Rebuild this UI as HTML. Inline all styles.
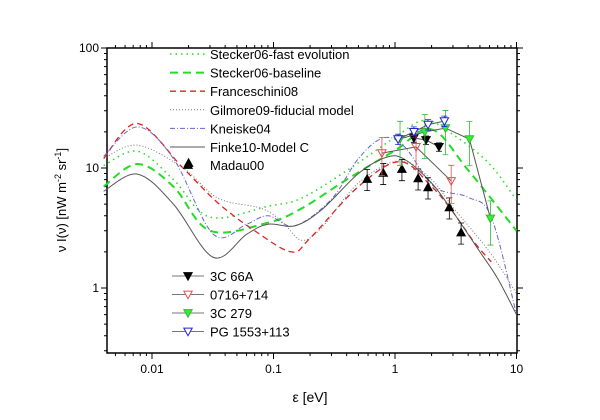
<!DOCTYPE html>
<html><head><meta charset="utf-8"><style>
body{margin:0;background:#fff}
svg{display:block;font-family:"Liberation Sans",sans-serif}
</style></head><body>
<svg id="chart" width="600" height="420" xmlns="http://www.w3.org/2000/svg">
<g id="axes"></g>
<g id="curves"></g>
<g id="points"></g>
<g id="legend"></g>
<text x="310" y="402" text-anchor="middle" font-size="14">ε [eV]</text>
<text transform="translate(66,200) rotate(-90)" text-anchor="middle" font-size="13">ν I(ν) [nW m<tspan dy="-5" font-size="9">-2</tspan><tspan dy="5"> sr</tspan><tspan dy="-5" font-size="9">-1</tspan><tspan dy="5">]</tspan></text>
</svg>
<script>
const finke=[[0.004,6.4],[0.0076,8.9],[0.015,5],[0.032,1.8],[0.06,2.8],[0.09,3.4],[0.15,3.3],[0.25,4.5],[0.5,9],[0.85,12.3],[1.2,11.8],[2,7.5],[3,4.3],[5,2],[7,1.2],[10,0.6]];
const kneiske=[[0.004,12.5],[0.0076,22],[0.015,12],[0.032,2.8],[0.06,3.4],[0.09,4],[0.15,3.3],[0.3,5.5],[0.5,12],[0.8,17.8],[1.2,15],[2.1,7],[4,5.7],[6.2,3.9],[10,0.6]];
const frances=[[0.004,12],[0.0076,23.5],[0.018,10],[0.035,5.1],[0.07,3],[0.14,2],[0.2,2.6],[0.5,7],[1.1,11.3],[2,7],[2.9,4.5],[4.5,2.4],[6.2,1.65]];
const gilmore=[[0.004,12],[0.0076,15.5],[0.018,10],[0.035,5.6],[0.08,4.6],[0.12,3.5],[0.17,2.5],[0.25,3.2],[0.5,7.5],[1.1,11.5],[2,8],[3,4.7],[6,2],[10,0.9]];
const steckerFast=[[0.004,10.5],[0.0076,13.8],[0.015,8],[0.03,3.9],[0.09,4.8],[0.17,5.6],[0.4,9.5],[1,18],[1.75,25],[3,19],[5.9,11],[10,5.4]];
const steckerBase=[[0.004,7],[0.0076,10.8],[0.015,7],[0.03,3],[0.09,3.5],[0.17,4.6],[0.4,8],[1,14],[2,21],[4,9.6],[10,3]];
const madauModel=[[0.02,11]];
const madauE=[0.59,0.8,1.14,1.55,1.87,2.8,3.5];
const madauV=[8.1,9.1,9.8,8.2,6.9,4.7,2.9];
const s66aE=[1.43,1.8,2.3];
const s66aV=[17.8,17.1,15];
const s0716E=[0.78,1.49,2.9];
const s0716V=[13.3,15,7.8];
const s279E=[1.1,1.76,2.6,4.1,6.1];
const s279V=[17.5,20,21.5,17.4,3.8];
const pgE=[1.06,1.43,1.87,2.55];
const pgV=[17.4,20,23,24.6];
const xTicks=[0.01,0.1,1,10];
const xTickLabels=["0.01","0.1","1","10"];
const yTicks=[1,10,100];
const yTickLabels=["1","10","100"];

const NS="http://www.w3.org/2000/svg";
const L=107,R=517,T=48,B=353;
const X=e=>152+121.5*(Math.log10(e)+2);
const Y=v=>288-120*Math.log10(v);
function mk(t,a,p){const e=document.createElementNS(NS,t);for(const k in a)e.setAttribute(k,a[k]);p.appendChild(e);return e;}
const ax=document.getElementById('axes');
const frame=mk('rect',{x:L,y:T,width:R-L,height:B-T,fill:'none',stroke:'#000','stroke-width':1.5},ax);


for(let d=-3;d<=1;d++){for(let m=1;m<10;m++){const e=m*Math.pow(10,d);const x=X(e);if(x<L-0.5||x>R+0.5)continue;const len=m===1?6:3;
const t1=mk('line',{x1:x,x2:x,y1:B,y2:B+len,stroke:'#000'},ax);
const t2=mk('line',{x1:x,x2:x,y1:T,y2:T-len,stroke:'#000'},ax);}}
xTicks.forEach((e,i)=>{const t=mk('text',{x:X(e),y:B+20,'text-anchor':'middle','font-size':12},ax);t.textContent=xTickLabels[i];
});
for(let d=-1;d<=2;d++){for(let m=1;m<10;m++){const v=m*Math.pow(10,d);const y=Y(v);if(y>B+0.5||y<T-0.5)continue;const len=m===1?6:3;
const t1=mk('line',{x1:L,x2:L-len,y1:y,y2:y,stroke:'#000'},ax);
const t2=mk('line',{x1:R,x2:R+len,y1:y,y2:y,stroke:'#000'},ax);}}
yTicks.forEach((v,i)=>{const t=mk('text',{x:L-8,y:Y(v)+4,'text-anchor':'end','font-size':12},ax);t.textContent=yTickLabels[i];
});

function smooth(data){const p=data.map(d=>[X(d[0]),Y(d[1])]);let s='M'+p[0][0]+','+p[0][1];
for(let i=0;i<p.length-1;i++){const p0=p[i-1]||p[i],p1=p[i],p2=p[i+1],p3=p[i+2]||p2;
s+=' C'+(p1[0]+(p2[0]-p0[0])/6)+','+(p1[1]+(p2[1]-p0[1])/6)+' '+(p2[0]-(p3[0]-p1[0])/6)+','+(p2[1]-(p3[1]-p1[1])/6)+' '+p2[0]+','+p2[1];}return s;}
const cg=document.getElementById('curves');
const curves=[
 [steckerFast,'#22dd22','1.5','1.5 4','stecker06-fast-curve'],
 [steckerBase,'#22dd22','2','8 5','stecker06-baseline-curve'],
 [frances,'#dd2222','1.3','6 4','franceschini08-curve'],
 [gilmore,'#777','1','1 2','gilmore09-curve'],
 [kneiske,'#6666cc','1','5 2 1 2','kneiske04-curve'],
 [finke,'#555','1','','finke10-curve']];
curves.forEach(c=>{const p=mk('path',{d:smooth(c[0]),fill:'none',stroke:c[1],'stroke-width':c[2],'stroke-dasharray':c[3]},cg);
});

const pg=document.getElementById('points');
function tri(x,y,up,fill,stroke,r){r=r||4.2;const pts=up?[[x,y-r],[x-r,y+r*0.8],[x+r,y+r*0.8]]:[[x,y+r],[x-r,y-r*0.8],[x+r,y-r*0.8]];
return mk('polygon',{points:pts.map(q=>q.join(',')).join(' '),fill:fill,stroke:stroke,'stroke-width':1},pg);}
function series(E,V,up,fill,stroke,err,line,name){
 if(line){const l=mk('polyline',{points:E.map((e,i)=>X(e)+','+Y(V[i])).join(' '),fill:'none',stroke:'#555','stroke-width':1},pg);
 }
 E.forEach((e,i)=>{const x=X(e),y=Y(V[i]);const lo=Y(V[i]*(1-err)),hi=Y(V[i]*(1+err));
 const b=mk('path',{d:`M${x},${hi}V${lo}M${x-3},${hi}H${x+3}M${x-3},${lo}H${x+3}`,stroke:stroke,'stroke-width':0.8,fill:'none'},pg);
 
 const m=tri(x,y,up,fill,stroke);});}
series(madauE,madauV,true,'#000','#000',0.2,false,'madau00');
series(s66aE,s66aV,false,'#000','#000',0.08,true,'3c66a');
series(s0716E,s0716V,false,'none','#e05050',0.35,true,'0716-714');
series(s279E,s279V,false,'#33ee33','#33bb33',0.4,true,'3c279');
series(pgE,pgV,false,'#fff','#2222dd',0.1,true,'pg1553');
madauModel.forEach(d=>{const m=tri(X(d[0]),Y(d[1]),true,'#000','#000');});

const lg=document.getElementById('legend');
const ents=[['Stecker06-fast evolution','#22dd22','1.5','1.5 4'],['Stecker06-baseline','#22dd22','2','8 5'],['Franceschini08','#dd2222','1.3','6 4'],
['Gilmore09-fiducial model','#777','1','1 2'],['Kneiske04','#6666cc','1','5 2 1 2'],['Finke10-Model C','#555','1','']];
ents.forEach((en,i)=>{const y=54+18.6*i;const g=mk('g',{},lg);
mk('line',{x1:170,x2:205,y1:y,y2:y,stroke:en[1],'stroke-width':en[2],'stroke-dasharray':en[3]},g);
const t=mk('text',{x:210,y:y+5,'font-size':13},g);t.textContent=en[0];});
{const y=165;const g=mk('g',{},lg);
const m=tri(188,y,true,'#000','#000');g.appendChild(m);const t=mk('text',{x:210,y:y+5,'font-size':13},g);t.textContent='Madau00';}
const ents2=[['3C 66A','#000','#000'],['0716+714','none','#e05050'],['3C 279','#33ee33','#33bb33'],['PG 1553+113','#fff','#2222dd']];
ents2.forEach((en,i)=>{const y=276+18.5*i;const g=mk('g',{},lg);
mk('line',{x1:172,x2:204,y1:y,y2:y,stroke:'#777','stroke-width':1},g);
const m=tri(188,y,false,en[1]==='none'?'#fff':en[1],en[2]);g.appendChild(m);
const t=mk('text',{x:210,y:y+5,'font-size':13},g);t.textContent=en[0];});
</script>
</body></html>
